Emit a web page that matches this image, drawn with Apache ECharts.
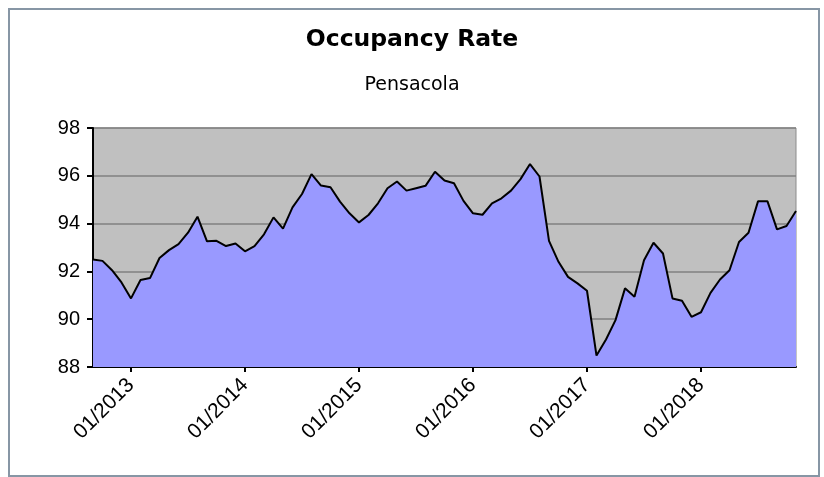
<!DOCTYPE html>
<html>
<head>
<meta charset="utf-8">
<title>Occupancy Rate</title>
<script src="https://cdn.jsdelivr.net/npm/echarts@6/dist/echarts.min.js"></script>
<style>
    html, body { margin: 0; padding: 0; background: #fff; }
    #main { width: 824px; height: 477px; }
</style>
</head>
<body>
<div id="main"></div>
<script>
// months, Sep 2012 - Nov 2018
var months = [
    '09/2012', '10/2012', '11/2012', '12/2012',
    '01/2013', '02/2013', '03/2013', '04/2013', '05/2013', '06/2013', '07/2013', '08/2013', '09/2013', '10/2013', '11/2013', '12/2013',
    '01/2014', '02/2014', '03/2014', '04/2014', '05/2014', '06/2014', '07/2014', '08/2014', '09/2014', '10/2014', '11/2014', '12/2014',
    '01/2015', '02/2015', '03/2015', '04/2015', '05/2015', '06/2015', '07/2015', '08/2015', '09/2015', '10/2015', '11/2015', '12/2015',
    '01/2016', '02/2016', '03/2016', '04/2016', '05/2016', '06/2016', '07/2016', '08/2016', '09/2016', '10/2016', '11/2016', '12/2016',
    '01/2017', '02/2017', '03/2017', '04/2017', '05/2017', '06/2017', '07/2017', '08/2017', '09/2017', '10/2017', '11/2017', '12/2017',
    '01/2018', '02/2018', '03/2018', '04/2018', '05/2018', '06/2018', '07/2018', '08/2018', '09/2018', '10/2018', '11/2018'
];
// occupancy rate, %
var occupancy = [
    92.50, 92.44, 92.05, 91.54,
    90.87, 91.64, 91.72, 92.56, 92.89, 93.14, 93.62, 94.29, 93.26, 93.28, 93.06, 93.17,
    92.84, 93.06, 93.55, 94.26, 93.79, 94.68, 95.24, 96.07, 95.59, 95.52, 94.92, 94.43,
    94.05, 94.36, 94.85, 95.48, 95.76, 95.38, 95.48, 95.58, 96.17, 95.80, 95.69, 94.95,
    94.43, 94.37, 94.85, 95.06, 95.38, 95.86, 96.49, 95.97, 93.28, 92.40, 91.77, 91.50,
    91.19, 88.48, 89.15, 89.96, 91.29, 90.94, 92.47, 93.20, 92.75, 90.87, 90.77, 90.10,
    90.29, 91.10, 91.66, 92.05, 93.23, 93.62, 94.93, 94.93, 93.76, 93.90, 94.53
];
var yTicks = [88, 90, 92, 94, 96, 98];

var myChart = echarts.init(document.getElementById('main'));

// only January gets a tick and a label
function isJanuary(index, value) {
    return value.indexOf('01/') === 0;
}

var option = {
    animation: false,
    textStyle: { fontFamily: 'Liberation Sans' },
    title: [
        {
            text: 'Occupancy Rate',
            left: 'center',
            top: 23,
            textStyle: { fontFamily: 'DejaVu Sans', fontWeight: 'bold', fontSize: 23.5, color: '#000' }
        },
        {
            text: 'Pensacola',
            left: 'center',
            top: 71,
            textStyle: { fontFamily: 'DejaVu Sans', fontWeight: 'normal', fontSize: 19, color: '#000' }
        }
    ],
    graphic: [
        {
            type: 'rect',
            shape: { x: 9, y: 9, width: 810, height: 467 },
            style: { fill: 'none', stroke: '#8796a5', lineWidth: 2 },
            silent: true
        }
    ],
    grid: {
        left: 93,
        right: 28,
        top: 128,
        bottom: 110,
        show: true,
        backgroundColor: '#c0c0c0',
        borderColor: '#8c8c8c',
        borderWidth: 1
    },
    xAxis: {
        type: 'category',
        data: months,
        boundaryGap: false,
        axisLine: { show: true, lineStyle: { color: '#000', width: 2 } },
        axisTick: { show: true, interval: isJanuary, length: 5, lineStyle: { color: '#000', width: 2 } },
        axisLabel: { interval: isJanuary, rotate: 45, margin: 15, fontSize: 21, color: '#000' },
        splitLine: { show: false }
    },
    yAxis: {
        type: 'value',
        min: yTicks[0],
        max: yTicks[yTicks.length - 1],
        interval: 2,
        axisLine: { show: true, lineStyle: { color: '#000', width: 2 } },
        axisTick: { show: true, length: 6, lineStyle: { color: '#000', width: 2 } },
        axisLabel: { margin: 13, fontSize: 20, color: '#000' },
        splitLine: { show: true, lineStyle: { color: '#808080', width: 1.5 } }
    },
    series: [
        {
            name: 'Occupancy Rate',
            type: 'line',
            data: occupancy,
            showSymbol: false,
            lineStyle: { color: '#000', width: 2 },
            itemStyle: { color: '#000' },
            areaStyle: { color: '#9999ff', opacity: 1 }
        }
    ]
};

myChart.setOption(option);
</script>
</body>
</html>
